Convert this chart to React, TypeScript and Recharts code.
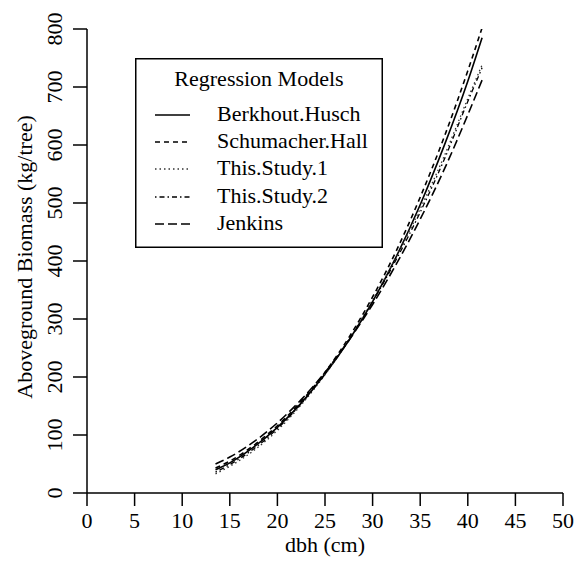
import React from 'react';
import { LineChart, Line, XAxis, YAxis, Legend } from 'recharts';

const dbh = [13.5, 15, 17.5, 20, 22.5, 25, 27.5, 30, 32.5, 35, 37.5, 40, 41.5];
const berkhoutHusch = [40, 52, 79, 113, 155, 205, 263, 330, 408, 497, 598, 710, 785];
const schumacherHall = [43, 55, 82, 116, 158, 208, 268, 338, 418, 510, 613, 728, 802];
const thisStudy1 = [33, 46, 73, 108, 152, 204, 265, 333, 408, 490, 580, 680, 738];
const thisStudy2 = [36, 49, 76, 111, 154, 205, 264, 330, 403, 484, 574, 675, 733];
const jenkins = [50, 62, 88, 121, 161, 208, 263, 325, 395, 472, 557, 652, 712];

const xTicks = [0, 5, 10, 15, 20, 25, 30, 35, 40, 45, 50];
const yTicks = [0, 100, 200, 300, 400, 500, 600, 700, 800];

const series = [
  { key: 'berkhout', name: 'Berkhout.Husch', dash: undefined, width: 1.6, color: '#000' },
  { key: 'schumacher', name: 'Schumacher.Hall', dash: '5 4', width: 1.6, color: '#000' },
  { key: 'study1', name: 'This.Study.1', dash: '1.5 3', width: 1.3, color: '#333' },
  { key: 'study2', name: 'This.Study.2', dash: '1.5 3 5 3', width: 1.3, color: '#000' },
  { key: 'jenkins', name: 'Jenkins', dash: '9 4', width: 1.6, color: '#000' },
];

const data = dbh.map((d, i) => ({
  dbh: d,
  berkhout: berkhoutHusch[i],
  schumacher: schumacherHall[i],
  study1: thisStudy1[i],
  study2: thisStudy2[i],
  jenkins: jenkins[i],
}));

const font = '"Liberation Serif", "Times New Roman", serif';
const ink = '#000';

const XTick = (props: any) => {
  const { x, y, payload } = props;
  return (
    <text x={x} y={y} dy={20} textAnchor="middle" fontFamily={font} fontSize={22} fill={ink}>
      {payload.value}
    </text>
  );
};

const YTick = (props: any) => {
  const { x, y, payload } = props;
  const tx = x - 9;
  return (
    <text x={tx} y={y} transform={`rotate(-90, ${tx}, ${y})`} textAnchor="middle" fontFamily={font} fontSize={22} fill={ink}>
      {payload.value}
    </text>
  );
};

const YTitle = (props: any) => {
  const vb = props.viewBox || { x: 0, y: 21, width: 79, height: 464 };
  const tx = vb.x + 24;
  const ty = vb.y + vb.height / 2 - 4;
  return (
    <text x={tx} y={ty} transform={`rotate(-90, ${tx}, ${ty})`} textAnchor="middle" fontFamily={font} fontSize={22} fill={ink}>
      Aboveground Biomass (kg/tree)
    </text>
  );
};

const XTitle = (props: any) => {
  const vb = props.viewBox || { x: 79, y: 485, width: 476, height: 68 };
  return (
    <text x={vb.x + vb.width / 2} y={vb.y + 59} textAnchor="middle" fontFamily={font} fontSize={22} fill={ink}>
      dbh (cm)
    </text>
  );
};

const LegendBox = () => {
  const rows = [57, 84, 111, 139, 166];
  return (
    <svg width={248} height={190} style={{ display: 'block' }}>
      <rect x={0.75} y={0.75} width={246.5} height={188.5} fill="#fff" stroke="#000" strokeWidth={1.5} />
      <text x={124} y={28} textAnchor="middle" fontFamily={font} fontSize={22} fill={ink}>
        Regression Models
      </text>
      {series.map((s, i) => (
        <g key={s.key}>
          <line x1={20} x2={55} y1={rows[i]} y2={rows[i]} stroke={s.color} strokeWidth={s.width} strokeDasharray={s.dash} />
          <text x={82} y={rows[i] + 6} fontFamily={font} fontSize={22} fill={ink}>
            {s.name}
          </text>
        </g>
      ))}
    </svg>
  );
};

export default function App() {
  return (
    <div style={{ width: 575, height: 553 }}>
      <LineChart width={575} height={553} data={data} margin={{ top: 21, right: 20, left: 0, bottom: 0 }}>
        <XAxis
          type="number"
          dataKey="dbh"
          domain={[0, 50]}
          ticks={xTicks}
          height={68}
          tickSize={13}
          axisLine={{ stroke: '#000', strokeWidth: 1.5 }}
          tickLine={{ stroke: '#000', strokeWidth: 1.5 }}
          tick={<XTick />}
          interval={0}
          label={<XTitle />}
        />
        <YAxis
          type="number"
          domain={[0, 800]}
          allowDataOverflow
          ticks={yTicks}
          width={79}
          tickSize={14}
          axisLine={{ stroke: '#000', strokeWidth: 1.5 }}
          tickLine={{ stroke: '#000', strokeWidth: 1.5 }}
          tick={<YTick />}
          interval={0}
          label={<YTitle />}
        />
        <Legend
          layout="vertical"
          align="center"
          verticalAlign="middle"
          content={<LegendBox />}
          wrapperStyle={{ position: 'absolute', left: 127, top: 50, width: 248, height: 190 }}
        />
        {series.map((s) => (
          <Line
            key={s.key}
            type="monotone"
            dataKey={s.key}
            name={s.name}
            stroke={s.color}
            strokeWidth={s.width}
            strokeDasharray={s.dash}
            dot={false}
            activeDot={false}
            isAnimationActive={false}
          />
        ))}
      </LineChart>
    </div>
  );
}
